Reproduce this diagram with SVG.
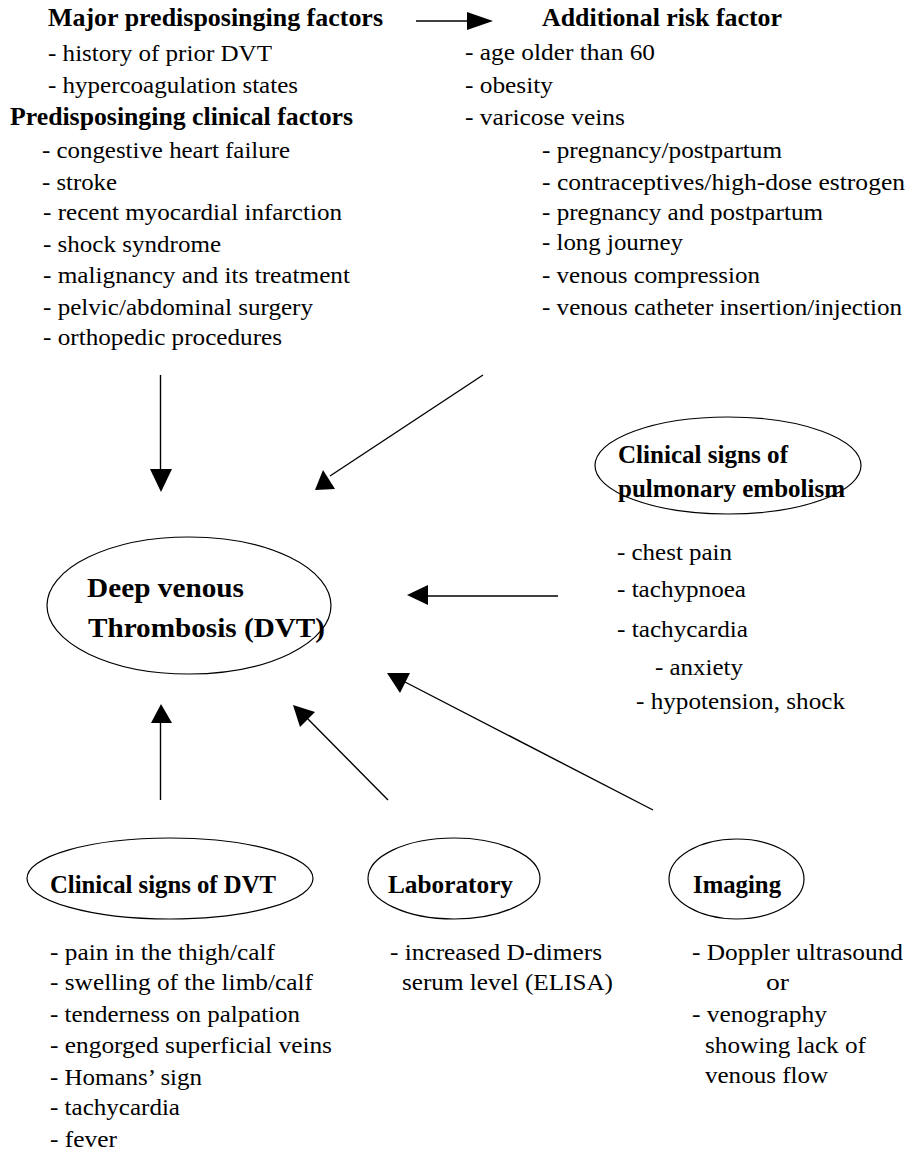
<svg xmlns="http://www.w3.org/2000/svg" width="909" height="1153" viewBox="0 0 909 1153">
<style>
text{font-family:"Liberation Serif","Times New Roman",serif;fill:#000}
.r{font-size:24px}
.b{font-size:25px;font-weight:bold}
.big{font-size:28px;font-weight:bold}
.node ellipse{fill:none;stroke:#000;stroke-width:1.2}
.conn line{stroke:#000;stroke-width:1.4}
.conn polygon{fill:#000;stroke:none}
</style>
<rect width="909" height="1153" fill="#fff"/>
<g id="connectors" class="conn">
<line x1="416" y1="21" x2="470" y2="21"/><polygon points="467,12 467,30 493,21"/>
<line x1="160.5" y1="375" x2="160.5" y2="470"/><polygon points="150,469 172,469 161,492"/>
<line x1="483" y1="375" x2="330" y2="476"/><polygon points="315,490 335,489 323,470"/>
<line x1="558" y1="596" x2="425" y2="596"/><polygon points="407,595 428,585 428,605"/>
<line x1="653" y1="810" x2="405" y2="682"/><polygon points="387,673 410,673 400,693"/>
<line x1="388" y1="800" x2="305" y2="716"/><polygon points="293,705 315,712 300,727"/>
<line x1="160.5" y1="800" x2="160.5" y2="722"/><polygon points="161,704 151,723 172,723"/>
</g>
<g id="major-factors">
<text class="b" x="48" y="26" textLength="335" lengthAdjust="spacingAndGlyphs">Major predisposinging factors</text>
<text class="r" x="48" y="61" textLength="224" lengthAdjust="spacingAndGlyphs">- history of prior DVT</text>
<text class="r" x="48" y="93" textLength="250" lengthAdjust="spacingAndGlyphs">- hypercoagulation states</text>
</g>
<g id="clinical-factors">
<text class="b" x="10" y="125" textLength="343" lengthAdjust="spacingAndGlyphs">Predisposinging clinical factors</text>
<text class="r" x="42" y="158" textLength="248" lengthAdjust="spacingAndGlyphs">- congestive heart failure</text>
<text class="r" x="42" y="190" textLength="75" lengthAdjust="spacingAndGlyphs">- stroke</text>
<text class="r" x="43" y="220" textLength="299" lengthAdjust="spacingAndGlyphs">- recent myocardial infarction</text>
<text class="r" x="43" y="252" textLength="178" lengthAdjust="spacingAndGlyphs">- shock syndrome</text>
<text class="r" x="43" y="283" textLength="307" lengthAdjust="spacingAndGlyphs">- malignancy and its treatment</text>
<text class="r" x="43" y="315" textLength="270" lengthAdjust="spacingAndGlyphs">- pelvic/abdominal surgery</text>
<text class="r" x="43" y="345" textLength="239" lengthAdjust="spacingAndGlyphs">- orthopedic procedures</text>
</g>
<g id="additional-risk">
<text class="b" x="542" y="26" textLength="240" lengthAdjust="spacingAndGlyphs">Additional risk factor</text>
<text class="r" x="465" y="60" textLength="190" lengthAdjust="spacingAndGlyphs">- age older than 60</text>
<text class="r" x="465" y="93" textLength="88" lengthAdjust="spacingAndGlyphs">- obesity</text>
<text class="r" x="465" y="125" textLength="160" lengthAdjust="spacingAndGlyphs">- varicose veins</text>
<text class="r" x="542" y="158" textLength="240" lengthAdjust="spacingAndGlyphs">- pregnancy/postpartum</text>
<text class="r" x="542" y="190" textLength="363" lengthAdjust="spacingAndGlyphs">-  contraceptives/high-dose estrogen</text>
<text class="r" x="542" y="220" textLength="281" lengthAdjust="spacingAndGlyphs">- pregnancy and postpartum</text>
<text class="r" x="542" y="250" textLength="141" lengthAdjust="spacingAndGlyphs">- long journey</text>
<text class="r" x="542" y="283" textLength="218" lengthAdjust="spacingAndGlyphs">- venous compression</text>
<text class="r" x="542" y="315" textLength="360" lengthAdjust="spacingAndGlyphs">- venous catheter insertion/injection</text>
</g>
<g id="dvt" class="node">
<ellipse cx="189" cy="605.5" rx="142" ry="68.5"/>
<text class="big" x="87" y="597" textLength="157" lengthAdjust="spacingAndGlyphs">Deep venous</text>
<text class="big" x="88" y="637" textLength="237" lengthAdjust="spacingAndGlyphs">Thrombosis (DVT)</text>
</g>
<g id="pe" class="node">
<ellipse cx="728" cy="465.5" rx="133" ry="48.5"/>
<text class="b" x="618" y="463" textLength="170" lengthAdjust="spacingAndGlyphs">Clinical signs of</text>
<text class="b" x="618" y="497" textLength="227" lengthAdjust="spacingAndGlyphs">pulmonary embolism</text>
</g>
<g id="pe-signs">
<text class="r" x="617" y="560" textLength="115" lengthAdjust="spacingAndGlyphs">- chest pain</text>
<text class="r" x="617" y="597" textLength="129" lengthAdjust="spacingAndGlyphs">- tachypnoea</text>
<text class="r" x="617" y="637" textLength="131" lengthAdjust="spacingAndGlyphs">- tachycardia</text>
<text class="r" x="655" y="675" textLength="88" lengthAdjust="spacingAndGlyphs">- anxiety</text>
<text class="r" x="636" y="709" textLength="209" lengthAdjust="spacingAndGlyphs">- hypotension, shock</text>
</g>
<g id="dvt-signs" class="node">
<ellipse cx="170" cy="878.5" rx="143" ry="40.5"/>
<text class="b" x="50" y="893" textLength="226" lengthAdjust="spacingAndGlyphs">Clinical signs of DVT</text>
<text class="r" x="50" y="960" textLength="225" lengthAdjust="spacingAndGlyphs">- pain in the thigh/calf</text>
<text class="r" x="50" y="990" textLength="263" lengthAdjust="spacingAndGlyphs">- swelling of the limb/calf</text>
<text class="r" x="50" y="1022" textLength="250" lengthAdjust="spacingAndGlyphs">- tenderness on palpation</text>
<text class="r" x="50" y="1053" textLength="282" lengthAdjust="spacingAndGlyphs">- engorged superficial veins</text>
<text class="r" x="50" y="1085" textLength="152" lengthAdjust="spacingAndGlyphs">- Homans’ sign</text>
<text class="r" x="50" y="1115" textLength="130" lengthAdjust="spacingAndGlyphs">- tachycardia</text>
<text class="r" x="50" y="1147" textLength="67" lengthAdjust="spacingAndGlyphs">- fever</text>
</g>
<g id="laboratory" class="node">
<ellipse cx="454" cy="878.5" rx="86" ry="40.5"/>
<text class="b" x="388" y="893" textLength="125" lengthAdjust="spacingAndGlyphs">Laboratory</text>
<text class="r" x="390" y="960" textLength="212" lengthAdjust="spacingAndGlyphs">- increased D-dimers</text>
<text class="r" x="402" y="990" textLength="211" lengthAdjust="spacingAndGlyphs">serum level (ELISA)</text>
</g>
<g id="imaging" class="node">
<ellipse cx="736.5" cy="879" rx="67.5" ry="40"/>
<text class="b" x="693" y="893" textLength="88" lengthAdjust="spacingAndGlyphs">Imaging</text>
<text class="r" x="692" y="960" textLength="211" lengthAdjust="spacingAndGlyphs">- Doppler ultrasound</text>
<text class="r" x="766" y="990" textLength="23" lengthAdjust="spacingAndGlyphs">or</text>
<text class="r" x="692" y="1022" textLength="135" lengthAdjust="spacingAndGlyphs">- venography</text>
<text class="r" x="705" y="1053" textLength="161" lengthAdjust="spacingAndGlyphs">showing lack of</text>
<text class="r" x="705" y="1083" textLength="123" lengthAdjust="spacingAndGlyphs">venous flow</text>
</g>
</svg>
